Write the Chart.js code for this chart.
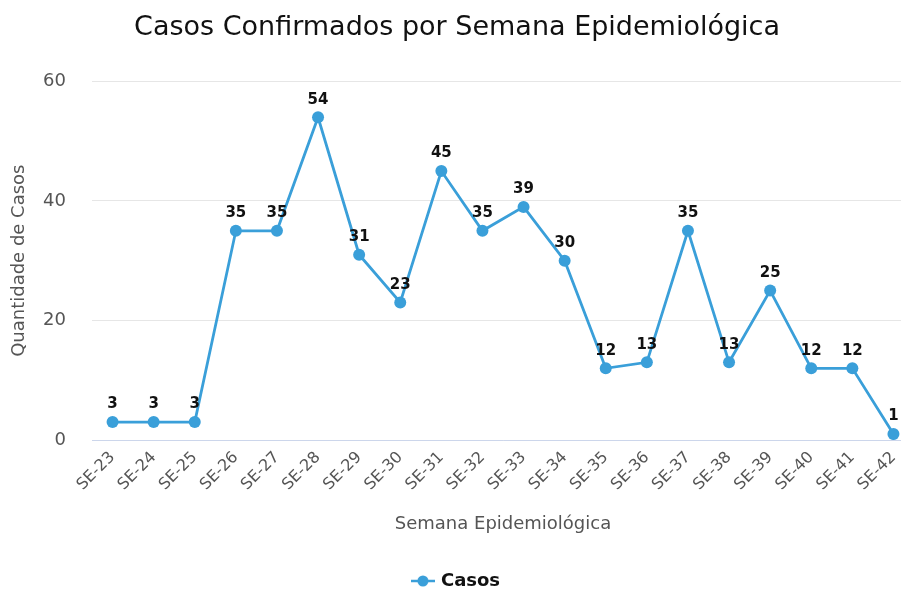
<!DOCTYPE html>
<html>
<head>
<meta charset="utf-8">
<script src="https://cdn.jsdelivr.net/npm/chart.js"></script>
<style>
  html, body { margin: 0; padding: 0; background: #fff; overflow: hidden; }
  #wrap { width: 914px; height: 589px; }
</style>
</head>
<body>
<div id="wrap"><canvas id="casosChart" width="914" height="589"></canvas></div>
<script>
// semanas epidemiologicas e casos confirmados
const semanas = ['SE-23', 'SE-24', 'SE-25', 'SE-26', 'SE-27', 'SE-28', 'SE-29', 'SE-30', 'SE-31', 'SE-32',
                 'SE-33', 'SE-34', 'SE-35', 'SE-36', 'SE-37', 'SE-38', 'SE-39', 'SE-40', 'SE-41', 'SE-42'];
const casos = [3, 3, 3, 35, 35, 54, 31, 23, 45, 35, 39, 30, 12, 13, 35, 13, 25, 12, 12, 1];
const yTicks = [0, 20, 40, 60];

const azul = '#3a9fd9';
const fonte = "'DejaVu Sans', sans-serif";

// icone da legenda: linha com ponto
const icone = document.createElement('canvas');
icone.width = 24; icone.height = 12;
(function () {
  const c = icone.getContext('2d');
  c.strokeStyle = azul; c.lineWidth = 2.5;
  c.beginPath(); c.moveTo(0, 6); c.lineTo(24, 6); c.stroke();
  c.fillStyle = azul;
  c.beginPath(); c.arc(12, 6, 5.5, 0, Math.PI * 2); c.fill();
})();

// rotulos de valor em cima dos pontos
const rotulos = {
  id: 'rotulos',
  afterDatasetsDraw(chart) {
    const ctx = chart.ctx;
    const meta = chart.getDatasetMeta(0);
    ctx.save();
    ctx.font = 'bold 15px ' + fonte;
    ctx.fillStyle = '#111';
    ctx.textAlign = 'center';
    ctx.textBaseline = 'bottom';
    meta.data.forEach((pt, i) => {
      ctx.fillText(chart.data.datasets[0].data[i], pt.x, pt.y - 10);
    });
    ctx.restore();
  }
};

document.addEventListener('DOMContentLoaded', () => {
  const ctx = document.getElementById('casosChart').getContext('2d');
  new Chart(ctx, {
    type: 'line',
    data: {
      labels: semanas,
      datasets: [{
        label: 'Casos',
        data: casos,
        borderColor: azul,
        backgroundColor: azul,
        borderWidth: 2.8,
        pointRadius: 6,
        pointHoverRadius: 6,
        pointBackgroundColor: azul,
        pointBorderWidth: 0,
        tension: 0,
        fill: false
      }]
    },
    options: {
      responsive: false,
      animation: false,
      layout: { autoPadding: false, padding: { left: 0, right: 0, top: 0, bottom: -11 } },
      plugins: {
        title: {
          display: true,
          text: 'Casos Confirmados por Semana Epidemiológica',
          color: '#111',
          font: { family: fonte, size: 27, weight: 'normal' },
          padding: { top: 12, bottom: 37 }
        },
        legend: {
          position: 'bottom',
          labels: {
            usePointStyle: true,
            pointStyle: icone,
            color: '#111',
            font: { family: fonte, size: 18, weight: 'bold' },
            padding: 0
          }
        },
        tooltip: { enabled: false }
      },
      scales: {
        x: {
          offset: true,
          grid: { display: false, drawTicks: false },
          border: { color: '#ccd6eb', width: 1 },
          ticks: {
            color: '#555',
            font: { family: fonte, size: 16 },
            maxRotation: 45,
            minRotation: 45,
            autoSkip: false,
            padding: 8
          },
          title: {
            display: true,
            text: 'Semana Epidemiológica',
            color: '#555',
            font: { family: fonte, size: 18 },
            padding: { top: 10, bottom: 37 }
          },
          afterFit: scale => {
            scale.paddingLeft = 0;
            scale.paddingRight = 0;
            scale.height = 132;
          }
        },
        y: {
          min: 0,
          max: 60,
          afterBuildTicks: axis => { axis.ticks = yTicks.map(v => ({ value: v })); },
          afterFit: scale => { scale.width = 92; },
          grid: { color: '#e6e6e6', drawTicks: false },
          border: { display: false },
          ticks: {
            color: '#555',
            font: { family: fonte, size: 18 },
            padding: 26
          },
          title: {
            display: true,
            text: 'Quantidade de Casos',
            color: '#555',
            font: { family: fonte, size: 18 },
            padding: { top: 9, bottom: 0 }
          }
        }
      }
    },
    plugins: [rotulos]
  });
});
</script>
</body>
</html>
